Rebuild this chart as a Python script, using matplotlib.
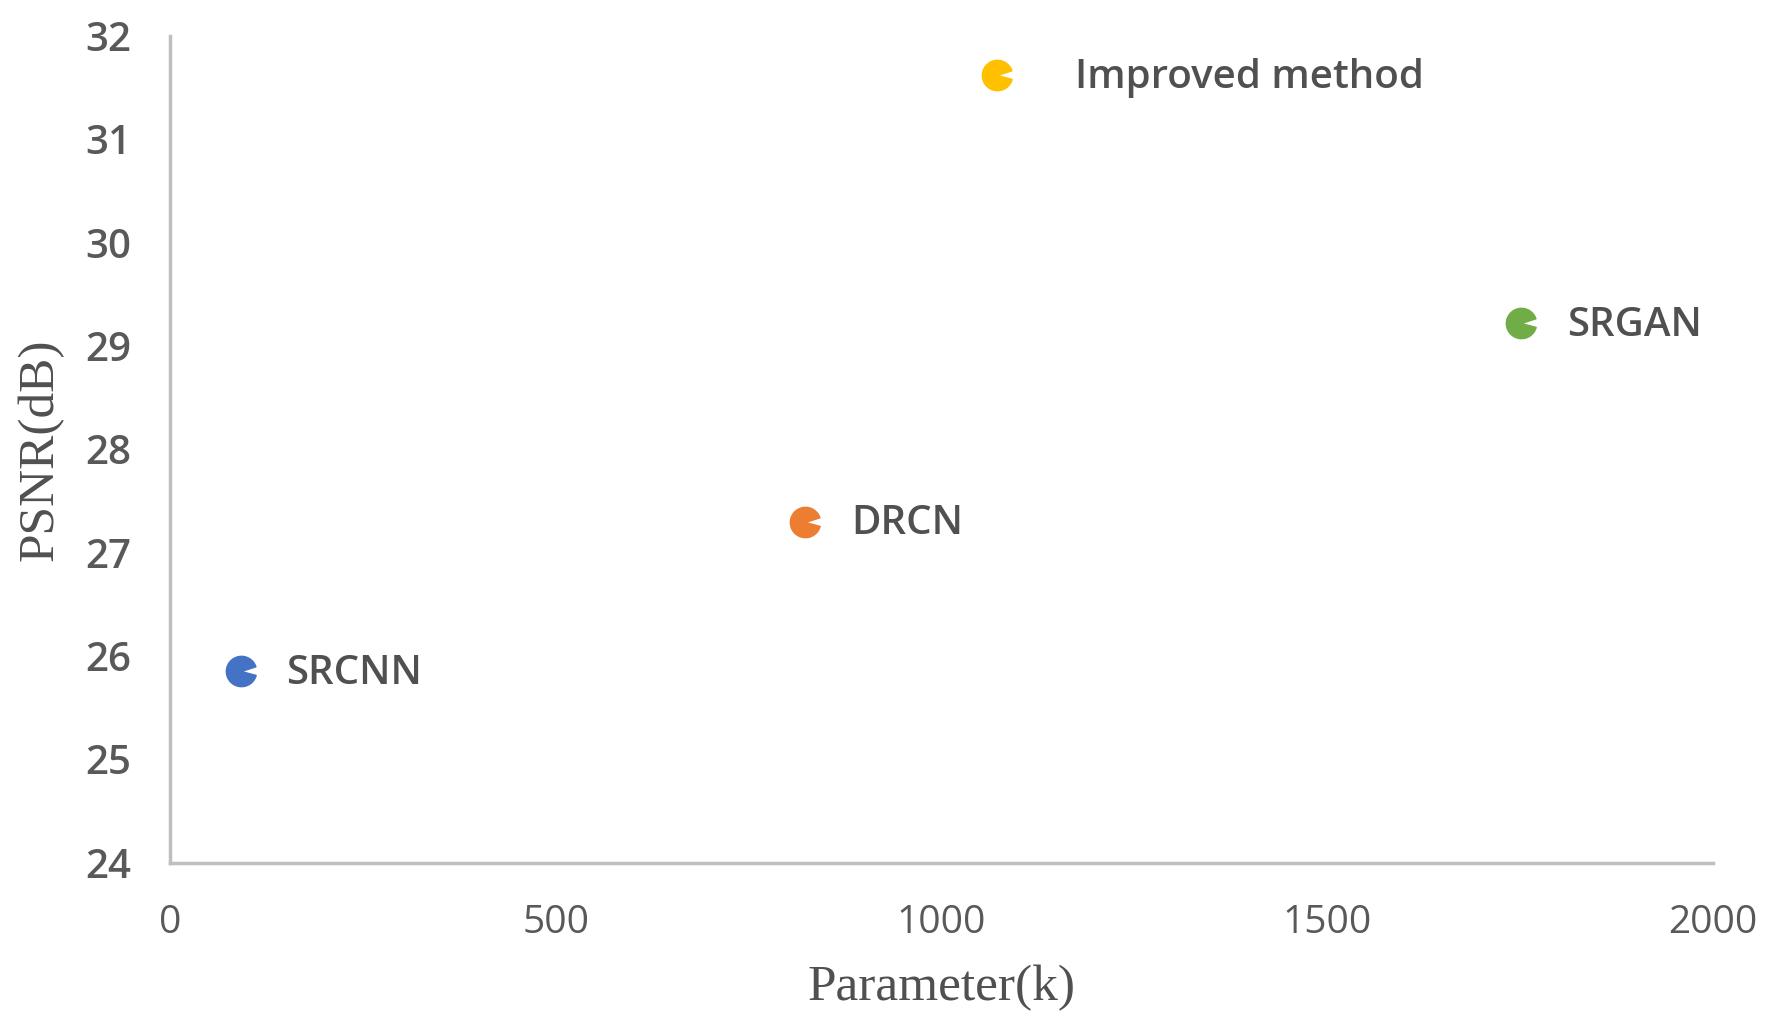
import matplotlib.pyplot as plt
from matplotlib.path import Path

methods = ['SRCNN', 'DRCN', 'Improved method', 'SRGAN']
params_k = [91, 823, 1072, 1751]
psnr_db = [25.85, 27.30, 31.62, 29.22]
colors = ['#4472C4', '#ED7D31', '#FFC000', '#70AD47']
label_offsets = [33, 33, 56, 33]

x_ticks = [0, 500, 1000, 1500, 2000]
y_ticks = [24, 25, 26, 27, 28, 29, 30, 31, 32]

# circle with a small notch on the right, like the original markers
notch_marker = Path.wedge(18, 345)

fig = plt.figure(figsize=(17.81, 10.33), dpi=100)
ax = fig.add_axes([0.0957, 0.165, 0.866, 0.80])

for x, y, c, name, off in zip(params_k, psnr_db, colors, methods, label_offsets):
    ax.plot(x, y, marker=notch_marker, markersize=22, color=c,
            markeredgecolor=c, linestyle='none', clip_on=False)
    ax.annotate(name, (x, y), xytext=(off, -2), textcoords='offset points',
                va='center', ha='left', fontsize=29, color='#505050',
                family='Open Sans', weight='semibold')

ax.set_xlim(0, 2000)
ax.set_ylim(24, 32)
ax.set_xticks(x_ticks)
ax.set_yticks(y_ticks)

for lab in ax.get_xticklabels():
    lab.set_family('Open Sans')
    lab.set_fontsize(28)
    lab.set_color('#595959')
for lab in ax.get_yticklabels():
    lab.set_family('Open Sans')
    lab.set_weight('semibold')
    lab.set_fontsize(29)
    lab.set_color('#595959')

ax.tick_params(axis='y', length=0, pad=28)
ax.tick_params(axis='x', length=0, pad=30)

ax.spines['top'].set_visible(False)
ax.spines['right'].set_visible(False)
ax.spines['left'].set_color('#BFBFBF')
ax.spines['bottom'].set_color('#BFBFBF')
ax.spines['left'].set_linewidth(2.5)
ax.spines['bottom'].set_linewidth(2.5)

ax.set_xlabel('Parameter(k)', family='Liberation Serif', fontsize=37,
              color='#505050', labelpad=16)
ax.set_ylabel('PSNR(dB)', family='Liberation Serif', fontsize=37,
              color='#505050', labelpad=16)

fig.savefig('out.png', dpi=100)
